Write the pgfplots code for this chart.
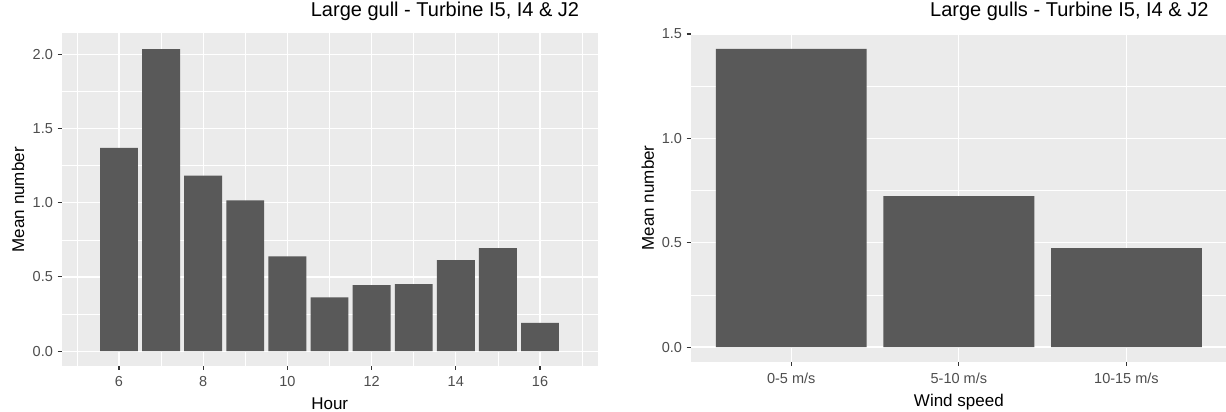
\documentclass[border=0pt]{standalone}
\usepackage{fontspec}
\setmainfont{Liberation Sans}
\usepackage{pgfplots}
\pgfplotsset{compat=1.18}
\usetikzlibrary{calc}
\definecolor{panelbg}{HTML}{EBEBEB}
\definecolor{barfill}{HTML}{595959}
\definecolor{ticklab}{HTML}{4D4D4D}
\definecolor{tickcol}{HTML}{333333}
\pgfplotsset{ggstyle/.style={
  scale only axis,
  axis background/.style={fill=panelbg},
  axis line style={draw=none},
  tick align=outside, tick pos=left,
  major tick length=4pt, minor tick length=0pt,
  major tick style={tickcol, line width=1.1pt},
  grid=both,
  major grid style={white, line width=1.2pt},
  minor grid style={white, line width=0.6pt},
  tick label style={font=\fontsize{14.5}{17}\selectfont, text=ticklab},
  yticklabel style={anchor=east, inner sep=0pt, xshift=-4.6pt},
  label style={font=\fontsize{17}{20}\selectfont},
  title style={font=\fontsize{20}{24}\selectfont, at={(axis description cs:1,1)}, anchor=base east, xshift=-15pt},
  ybar, bar width=0.9,
  clip=false,
}}
\begin{document}
\begin{tikzpicture}
\useasboundingbox (0,0) rectangle (1226pt,412pt);
\begin{axis}[ggstyle,
  at={(61.7pt,46pt)}, anchor=south west,
  width=536pt, height=332.5pt,
  xmin=4.64, xmax=17.37, ymin=-0.1, ymax=2.14,
  xtick={6,8,10,12,14,16}, minor xtick={5,7,9,11,13,15,17},
  ytick={0,0.5,1,1.5,2}, yticklabels={0.0,0.5,1.0,1.5,2.0},
  minor ytick={0.25,0.75,1.25,1.75},
  xticklabels={6,8,10,12,14,16},
  xticklabel style={anchor=base, inner sep=0pt, yshift=-16.7pt},
  title style={yshift=10.5pt},
  title={Large gull - Turbine I5, I4 \& J2},
  xlabel={Hour},
  xlabel style={at={(axis description cs:0.5,0)}, anchor=base, yshift=-43.3pt},
  ylabel={Mean number},
  every axis y label/.style={at={($(axis description cs:0,0.5)+(-43.7pt,0pt)$)}, rotate=90, anchor=center, font=\fontsize{17}{20}\selectfont},
]
\addplot[fill=barfill, draw=none] coordinates {
(6,1.369) (7,2.034) (8,1.183) (9,1.015) (10,0.638) (11,0.363)
(12,0.444) (13,0.452) (14,0.614) (15,0.694) (16,0.190)};
\end{axis}
\begin{axis}[ggstyle,
  at={(690.7pt,50.3pt)}, anchor=south west,
  width=536.3pt, height=327.7pt,
  xmin=0.4, xmax=3.6, ymin=-0.07, ymax=1.5,
  xtick={1,2,3}, xticklabels={0-5 m/s,5-10 m/s,10-15 m/s},
  minor xtick={},
  ytick={0,0.5,1,1.5}, yticklabels={0.0,0.5,1.0,1.5},
  minor ytick={0.25,0.75,1.25},
  xticklabel style={anchor=base, inner sep=0pt, yshift=-18.3pt},
  title style={yshift=11pt},
  title={Large gulls - Turbine I5, I4 \& J2},
  xlabel={Wind speed},
  xlabel style={at={(axis description cs:0.5,0)}, anchor=base, yshift=-44.9pt},
  ylabel={Mean number},
  every axis y label/.style={at={($(axis description cs:0,0.5)+(-43pt,0pt)$)}, rotate=90, anchor=center, font=\fontsize{17}{20}\selectfont},
]
\addplot[fill=barfill, draw=none] coordinates {(1,1.429) (2,0.723) (3,0.474)};
\end{axis}
\end{tikzpicture}
\end{document}
